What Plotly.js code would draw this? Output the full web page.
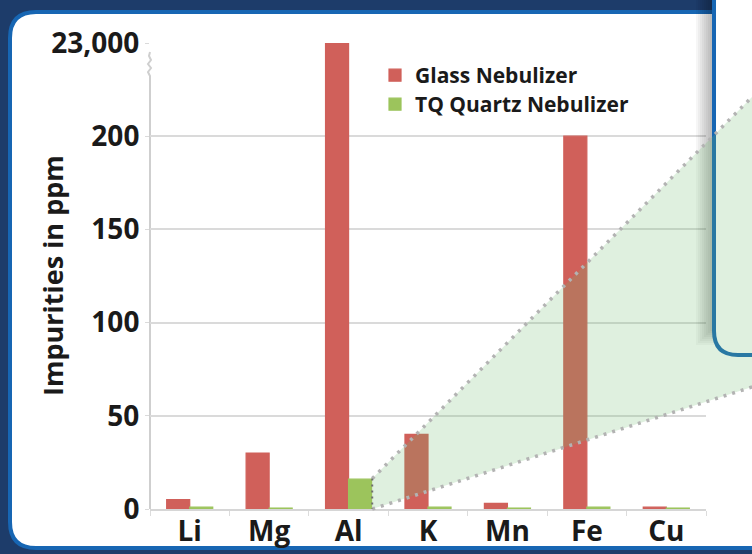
<!DOCTYPE html>
<html>
<head>
<meta charset="utf-8">
<script src="https://cdn.plot.ly/plotly-3.0.1.min.js"></script>
<style>
  html, body { margin: 0; padding: 0; background: #1d3c6a; }
  #chart { width: 752px; height: 554px; }
</style>
</head>
<body>
<div id="chart"></div>
<script>
// ---- data ----
const elements = ['Li', 'Mg', 'Al', 'K', 'Mn', 'Fe', 'Cu'];
const glassNebulizer = [5, 30, 23000, 40, 3, 200, 1];      // ppm
const quartzNebulizer = [1, 0.5, 16, 1, 0.5, 1, 0.5];      // ppm
const yTickValues = [0, 50, 100, 150, 200, 250];
const yTickLabels = ['0', '50', '100', '150', '200', '23,000'];
const seriesNames = ['Glass Nebulizer', 'TQ Quartz Nebulizer'];

// broken axis: anything above 200 is drawn at the "23,000" tick position
const BREAK_AT = 200, BREAK_POS = 250;
const shown = v => (v > BREAK_AT ? BREAK_POS : v);

// ---- layout geometry (pixels) ----
const WIDTH = 752, HEIGHT = 554;
const L = 150, R = 706, T = 43, B = 509;
const W = R - L, H = B - T;
const YMAX = 250;
const BARGAP = 0.42;
const EDGE = 1.2;

const px = x => ((x - L) / W).toFixed(4);
const py = y => ((B - y) / H).toFixed(4);
const P = (x, y) => px(x) + ',' + py(y);

// rounded main panel
function mainPanelPath() {
  const x0 = 10, y0 = 12, x1 = 775, y1 = 548, r = 26;
  return 'M' + P(x0 + r, y0) + ' L' + P(x1, y0) + ' L' + P(x1, y1) +
    ' L' + P(x0 + r, y1) + ' Q' + P(x0, y1) + ' ' + P(x0, y1 - r) +
    ' L' + P(x0, y0 + r) + ' Q' + P(x0, y0) + ' ' + P(x0 + r, y0) + ' Z';
}
// top-right inset panel
function insetPanelPath() {
  const x0 = 714, y0 = -10, x1 = 775, y1 = 355, r = 24;
  return 'M' + P(x1, y0) + ' L' + P(x0, y0) + ' L' + P(x0, y1 - r) +
    ' Q' + P(x0, y1) + ' ' + P(x0 + r, y1) + ' L' + P(x1, y1) + ' Z';
}

// zoom wedge anchored at the Al quartz bar's right edge
const alIdx = elements.indexOf('Al');
const barW = (1 - BARGAP) / 2;
const apexPaperX = (alIdx - (1 - BARGAP) / 2 + 2 * barW + 0.5) / elements.length;
const apexTopPaperY = shown(quartzNebulizer[alIdx]) / YMAX;
const apexPx = L + apexPaperX * W + EDGE / 2;
const apexTopPx = B - apexTopPaperY * H - EDGE / 2;
const farX = 800;
const upperSlope = (97 - apexTopPx) / (752 - apexPx);
const lowerSlope = (387 - B) / (752 - apexPx);
const upperFarY = apexTopPx + upperSlope * (farX - apexPx);
const lowerFarY = B + lowerSlope * (farX - apexPx);

const shapes = [];
// white main panel with blue border (below grid)
shapes.push({ type: 'path', xref: 'paper', yref: 'paper', layer: 'below',
  path: mainPanelPath(), fillcolor: '#ffffff', line: { color: '#1766b3', width: 4 } });

// y axis line with break squiggle
shapes.push({ type: 'path', xref: 'paper', yref: 'paper', layer: 'below',
  path: 'M' + P(L, B) + ' L' + P(L, 76) + ' L' + P(L - 2, 72) + ' L' + P(L + 1, 68) +
        ' L' + P(L - 2, 64) + ' L' + P(L + 1, 60) + ' L' + P(L - 1, 56) + ' L' + P(L, 52),
  line: { color: '#cfcfcf', width: 2 } });

// shadow left of inset panel
for (let i = 0; i < 9; i++) {
  shapes.push({ type: 'rect', xref: 'paper', yref: 'paper', layer: 'above',
    x0: px(696 + 2 * i), x1: px(714), y0: py(345 - i * 2), y1: py(-5),
    fillcolor: 'rgba(0,0,0,0.035)', line: { width: 0 } });
}
// inset panel
shapes.push({ type: 'path', xref: 'paper', yref: 'paper', layer: 'above',
  path: insetPanelPath(), fillcolor: '#ffffff', line: { color: '#1766b3', width: 4 } });

// green zoom wedge
shapes.push({ type: 'path', xref: 'paper', yref: 'paper', layer: 'above',
  path: 'M' + P(apexPx, apexTopPx) + ' L' + P(farX, upperFarY) + ' L' + P(farX, lowerFarY) +
        ' L' + P(apexPx, B) + ' Z',
  fillcolor: 'rgba(110,185,110,0.22)', line: { width: 0 } });
shapes.push({ type: 'line', xref: 'paper', yref: 'paper', layer: 'above',
  x0: px(apexPx), y0: py(apexTopPx), x1: px(farX), y1: py(upperFarY),
  line: { color: '#b3b3b3', width: 3.5, dash: '3px,6px' } });
shapes.push({ type: 'line', xref: 'paper', yref: 'paper', layer: 'above',
  x0: px(apexPx), y0: py(B), x1: px(farX), y1: py(lowerFarY),
  line: { color: '#b3b3b3', width: 3.5, dash: '3px,6px' } });
shapes.push({ type: 'line', xref: 'paper', yref: 'paper', layer: 'above',
  x0: px(apexPx), y0: py(apexTopPx), x1: px(apexPx), y1: py(B),
  line: { color: '#6f6f6f', width: 2, dash: '2px,4px' } });

const fontFam = '"Open Sans", "DejaVu Sans", sans-serif';
const RED = '#d0605a', GREEN = '#9cc45c';

const traces = [
  { type: 'bar', name: seriesNames[0], x: elements, y: glassNebulizer.map(shown),
    customdata: glassNebulizer, hovertemplate: '%{x}: %{customdata} ppm<extra>' + seriesNames[0] + '</extra>',
    marker: { color: RED, line: { color: RED, width: EDGE } }, legend: 'legend' },
  { type: 'bar', name: seriesNames[1], x: elements, y: quartzNebulizer.map(shown),
    customdata: quartzNebulizer, hovertemplate: '%{x}: %{customdata} ppm<extra>' + seriesNames[1] + '</extra>',
    marker: { color: GREEN, line: { color: GREEN, width: EDGE } }, legend: 'legend2' }
];

const tickFont = { size: 28, family: fontFam, weight: 700, color: '#1a1a1a' };
const legendFont = { size: 21, family: fontFam, weight: 700, color: '#1a1a1a' };

const layout = {
  width: WIDTH, height: HEIGHT,
  margin: { l: L, r: WIDTH - R, t: T, b: HEIGHT - B, pad: 0 },
  paper_bgcolor: '#1d3c6a',
  plot_bgcolor: 'rgba(0,0,0,0)',
  barmode: 'group', bargap: BARGAP, bargroupgap: 0,
  font: { family: fontFam, color: '#1a1a1a', size: 22, weight: 700 },
  showlegend: true,
  legend: {
    x: px(375), y: py(55), xanchor: 'left', yanchor: 'top',
    bgcolor: 'rgba(0,0,0,0)', font: legendFont, itemwidth: 30
  },
  legend2: {
    x: px(375), y: py(84), xanchor: 'left', yanchor: 'top',
    bgcolor: 'rgba(0,0,0,0)', font: legendFont, itemwidth: 30
  },
  xaxis: {
    type: 'category', range: [-0.5, elements.length - 0.5], fixedrange: true,
    showline: true, linecolor: '#d6d6d6', linewidth: 2,
    ticks: 'outside', tickson: 'boundaries', ticklen: 5, tickcolor: '#dcdcdc', tickwidth: 1,
    ticklabelstandoff: -4,
    showgrid: false, zeroline: false,
    tickfont: tickFont
  },
  yaxis: {
    range: [0, YMAX], fixedrange: true,
    tickmode: 'array', tickvals: yTickValues, ticktext: yTickLabels,
    showgrid: true, gridcolor: '#dadada', gridwidth: 2,
    zeroline: false, showline: false,
    ticks: 'outside', ticklen: 4, tickcolor: '#dadada', ticklabelstandoff: 0,
    tickfont: tickFont
  },
  annotations: [{
    text: 'Impurities in ppm', textangle: -90, showarrow: false,
    xref: 'paper', yref: 'paper', x: px(52), y: py(275), xanchor: 'center', yanchor: 'middle',
    font: { size: 27, family: fontFam, weight: 700, color: '#1a1a1a' }
  }],
  shapes: shapes
};

Plotly.newPlot('chart', traces, layout, { displayModeBar: false, staticPlot: false });
</script>
</body>
</html>
